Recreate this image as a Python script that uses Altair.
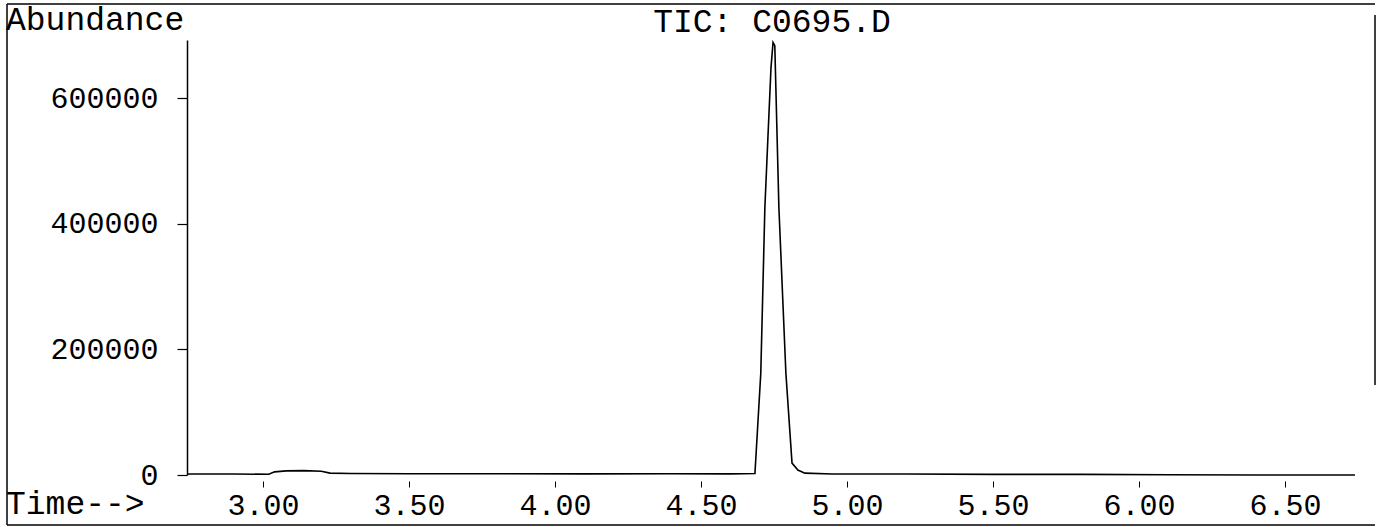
import altair as alt
import pandas as pd

# Retention time (min) and abundance of the TIC trace
times = [2.74, 2.90, 3.02, 3.04, 3.08, 3.14, 3.20, 3.23, 3.30, 3.50, 3.80, 4.10,
         4.40, 4.60, 4.685, 4.705, 4.719, 4.729, 4.740, 4.747, 4.753, 4.767,
         4.791, 4.812, 4.832, 4.856, 4.95, 5.20, 5.50, 5.80, 6.10, 6.40, 6.74]
abundance = [1500, 1500, 1200, 5000, 6500, 7000, 6000, 3000, 2500, 2000, 2000, 1800,
             2000, 1800, 2500, 162000, 426000, 533000, 649000, 689000, 684000, 426000,
             162000, 19000, 8000, 3000, 1500, 1500, 1000, 1000, 500, 0, 0]

x_ticks = [3.0, 3.5, 4.0, 4.5, 5.0, 5.5, 6.0, 6.5]
y_ticks = [0, 200000, 400000, 600000]
title_text = "TIC: C0695.D"
y_label = "Abundance"
x_label = "Time-->"

FONT = "Liberation Mono"

df = pd.DataFrame({"time": times, "abundance": abundance})

W, H = 1168, 435

trace = alt.Chart(df).mark_line(color="black", strokeWidth=1.6).encode(
    x=alt.X("time:Q",
            scale=alt.Scale(domain=[2.74, 6.74], nice=False, zero=False),
            axis=alt.Axis(values=x_ticks, format=".2f", title=None, domain=False,
                          grid=False, tickSize=6, offset=6, tickColor="black",
                          labelFont=FONT, labelFontSize=30, labelColor="black",
                          labelPadding=3)),
    y=alt.Y("abundance:Q",
            scale=alt.Scale(domain=[0, 693000], nice=False),
            axis=alt.Axis(values=y_ticks, format="d", title=None, domain=True,
                          domainColor="black", domainWidth=1.5, grid=False,
                          tickSize=10, tickColor="black", tickWidth=1.2,
                          labelFont=FONT, labelFontSize=30, labelColor="black",
                          labelPadding=19)),
)

one = pd.DataFrame({"k": [0]})

def hrule(y, x1, x2):
    return alt.Chart(one).mark_rule(color="black", strokeWidth=1.5).encode(
        y=alt.value(y), x=alt.value(x1), x2=alt.value(x2))

def vrule(x, y1, y2):
    return alt.Chart(one).mark_rule(color="black", strokeWidth=1.5).encode(
        x=alt.value(x), y=alt.value(y1), y2=alt.value(y2))

frame = [
    hrule(-36, -180, 1188),
    hrule(485, -180, 1188),
    vrule(-180, -36, 485),
    vrule(1188, -25, 345),
]

def label(text, x, y, align):
    return alt.Chart(one).mark_text(
        text=text, font=FONT, fontSize=33, color="black",
        align=align, baseline="middle").encode(x=alt.value(x), y=alt.value(y))

texts = [
    label(title_text, 585, -18, "center"),
    label(y_label, -181, -20, "left"),
    label(x_label, -181, 464, "left"),
]

chart = alt.layer(trace, *frame, *texts).properties(
    width=W, height=H,
    autosize=alt.AutoSizeParams(type="none"),
    padding={"left": 187, "top": 40, "right": 28, "bottom": 52},
    background="white",
).configure_view(strokeWidth=0)

chart.save("out.html", embed_options={"renderer": "svg", "actions": False})
